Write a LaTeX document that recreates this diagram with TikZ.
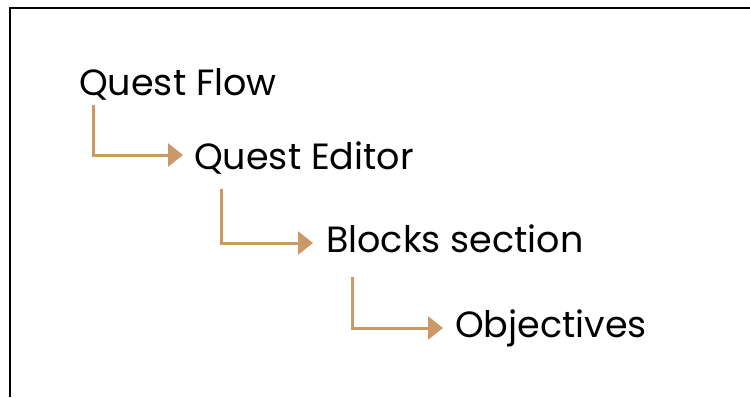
\documentclass[tikz,border=0pt]{standalone}
\usepackage{fontspec}
\setmainfont{Poppins}
\usepackage{xcolor}
\usepackage{tikz}
\usetikzlibrary{arrows.meta, positioning}
\definecolor{linktan}{RGB}{204,153,102}

\begin{document}
\begin{tikzpicture}[
    x=1pt, y=1pt,
    item/.style={inner sep=0pt, anchor=base west, font=\fontsize{36.5}{42}\selectfont},
    link/.style={-{Triangle[length=15pt,width=23pt]}, line width=3pt, draw=linktan}
]
\useasboundingbox (0,0) rectangle (750,-397);

% Frame
\draw[line width=2.5pt] (10,-397) -- (10,-8) -- (750,-8);

% Items
\node[item] (flow) at (79,-95) {Quest Flow};
\node[item, below=74pt of flow.base west, anchor=base west, xshift=115pt] (editor) {Quest Editor};
\node[item, below=83pt of editor.base west, anchor=base west, xshift=132pt] (blocks) {Blocks section};
\node[item, below=85pt of blocks.base west, anchor=base west, xshift=129pt] (objectives) {Objectives};

% Arrows
\draw[link] ([xshift=14pt, yshift=-10pt]flow.base west) |- ([xshift=-11pt, yshift=14pt]editor.base west);
\draw[link] ([xshift=27pt, yshift=-20pt]editor.base west) |- ([xshift=-13pt, yshift=9pt]blocks.base west);
\draw[link] ([xshift=26pt, yshift=-25pt]blocks.base west) |- ([xshift=-12pt, yshift=9pt]objectives.base west);

\end{tikzpicture}
\end{document}
